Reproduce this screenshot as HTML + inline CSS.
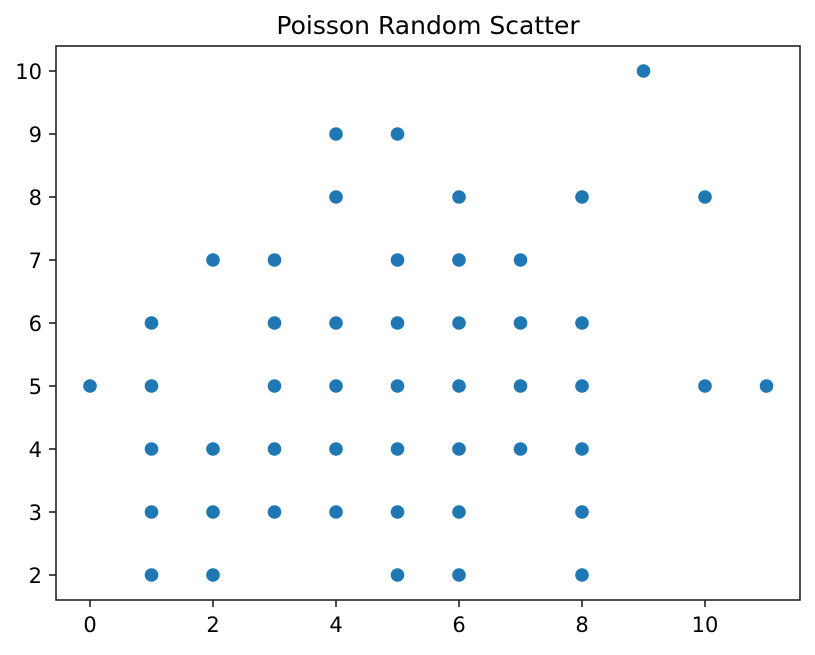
<!DOCTYPE html>
<html><head><meta charset="utf-8"><style>
body{margin:0;background:#fff;}
svg text{font-family:"DejaVu Sans","Liberation Sans",sans-serif;fill:#000;}
</style></head><body>
<svg id="chart" width="815" height="650" viewBox="0 0 815 650" xmlns="http://www.w3.org/2000/svg">
<text x="428" y="34" font-size="25" text-anchor="middle">Poisson Random Scatter</text>
<g id="ticks"></g>
<g id="points"></g>
<rect x="56" y="46" width="744" height="554" fill="none" stroke="#222" stroke-width="1.6"/>
</svg>
<script>
const xValues=[0,1,1,1,1,1,2,2,2,2,3,3,3,3,3,4,4,4,4,4,4,5,5,5,5,5,5,5,6,6,6,6,6,6,6,7,7,7,7,8,8,8,8,8,8,9,10,10,11];
const yValues=[5,6,5,4,3,2,7,4,3,2,7,6,5,4,3,9,8,6,5,4,3,9,7,6,5,4,3,2,8,7,6,5,4,3,2,7,6,5,4,8,6,5,4,3,2,10,8,5,5];
const xTicks=[0,2,4,6,8,10];
const yTicks=[2,3,4,5,6,7,8,9,10];
const NS="http://www.w3.org/2000/svg";
function xs(v){return 90+v*61.5;}
function ys(v){return 575-(v-2)*63;}
const tg=document.getElementById('ticks');
xTicks.forEach(t=>{
  const l=document.createElementNS(NS,'line');
  l.setAttribute('x1',xs(t));l.setAttribute('x2',xs(t));l.setAttribute('y1',600);l.setAttribute('y2',607);l.setAttribute('stroke','#222');l.setAttribute('stroke-width','1.6');
  
  
  tg.appendChild(l);
  const tx=document.createElementNS(NS,'text');
  tx.setAttribute('x',xs(t));tx.setAttribute('y',632);tx.setAttribute('font-size','21');tx.setAttribute('text-anchor','middle');
  tx.textContent=t;
  
  
  tg.appendChild(tx);
});
yTicks.forEach(t=>{
  const l=document.createElementNS(NS,'line');
  l.setAttribute('x1',49);l.setAttribute('x2',56);l.setAttribute('y1',ys(t));l.setAttribute('y2',ys(t));l.setAttribute('stroke','#222');l.setAttribute('stroke-width','1.6');
  
  
  tg.appendChild(l);
  const tx=document.createElementNS(NS,'text');
  tx.setAttribute('x',42);tx.setAttribute('y',ys(t)+8);tx.setAttribute('font-size','21');tx.setAttribute('text-anchor','end');
  tx.textContent=t;
  
  
  tg.appendChild(tx);
});
const pg=document.getElementById('points');
xValues.forEach((x,i)=>{
  const c=document.createElementNS(NS,'circle');
  c.setAttribute('cx',xs(x));c.setAttribute('cy',ys(yValues[i]));c.setAttribute('r',6.8);c.setAttribute('fill','#1f77b4');
  
  
  pg.appendChild(c);
});
</script>
</body></html>
